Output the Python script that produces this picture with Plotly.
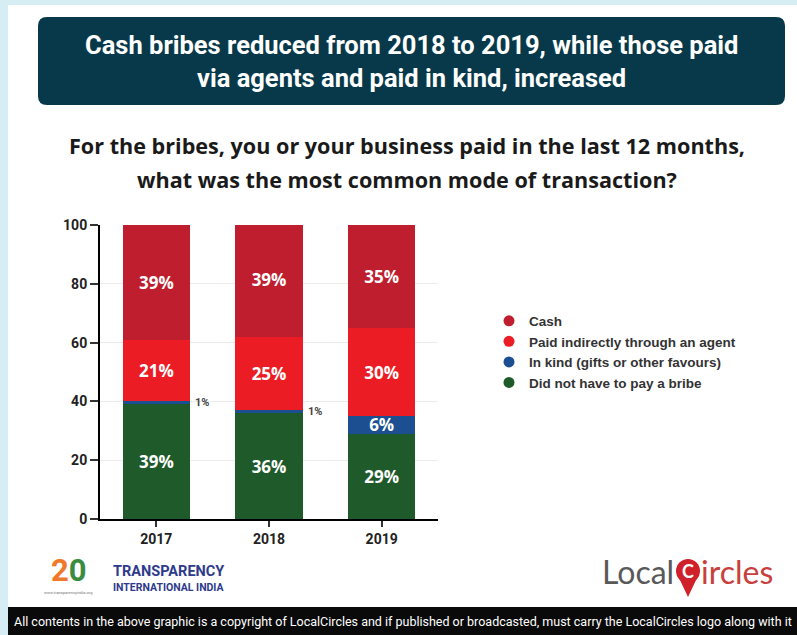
import plotly.graph_objects as go

W, H = 797, 635

# ---- data ----
years = ["2017", "2018", "2019"]
did_not_pay = [39, 36, 29]
in_kind = [1, 1, 6]
via_agent = [21, 25, 30]
cash = [39, 39, 35]
y_ticks = [0, 20, 40, 60, 80, 100]

series_names = ["Did not have to pay a bribe", "In kind (gifts or other favours)",
                "Paid indirectly through an agent", "Cash"]
series_values = [did_not_pay, in_kind, via_agent, cash]
series_colors = ["#1f5a2b", "#1b4f91", "#ec1c24", "#be1e2d"]

title_lines = ["Cash bribes reduced from 2018 to 2019, while those paid",
               "via agents and paid in kind, increased"]
subtitle_lines = ["For the bribes, you or your business paid in the last 12 months,",
                  "what was the most common mode of transaction?"]
footer_text = ("All contents in the above graphic is a copyright of LocalCircles and if published "
               "or broadcasted, must carry the LocalCircles logo along with it")


def X(px):
    return px / W


def Y(py):
    return 1 - py / H


fig = go.Figure()

for name, vals, col in zip(series_names, series_values, series_colors):
    txt = [f"{v}%" if v >= 3 else "" for v in vals]
    fig.add_trace(go.Bar(
        x=years, y=vals, name=name, marker=dict(color=col, line=dict(width=0)),
        text=txt, textposition="inside", insidetextanchor="middle",
        constraintext="none",
        textfont=dict(family="Open Sans", size=17, color="white", weight="bold"),
        showlegend=False, hoverinfo="skip",
    ))

# legend entries with round markers (top-to-bottom: Cash ... Did not)
for name, col in list(zip(series_names, series_colors))[::-1]:
    fig.add_trace(go.Scatter(x=[years[0]], y=[None], mode="markers", name=name,
                             marker=dict(size=11, color=col), showlegend=True,
                             hoverinfo="skip"))

annotations = []
# outside labels for tiny "in kind" segments (x given as category index)
for i, (base, v) in enumerate(zip(did_not_pay, in_kind)):
    if v < 3:
        annotations.append(dict(x=i, y=base + v / 2, xref="x", yref="y", text=f"<b>{v}%</b>",
                                showarrow=False, xshift=46,
                                font=dict(family="Roboto", size=11, color="#444")))

# title box text
for i, line in enumerate(title_lines):
    annotations.append(dict(x=X(411.5), y=Y(45 + 33 * i), xref="paper", yref="paper",
                            text=line, showarrow=False, xanchor="center", yanchor="middle",
                            font=dict(family="Roboto", size=25.5, color="white", weight="bold")))
# subtitle
for i, line in enumerate(subtitle_lines):
    annotations.append(dict(x=X(407), y=Y(146 + 34 * i), xref="paper", yref="paper",
                            text=f"<b>{line}</b>", showarrow=False, xanchor="center",
                            yanchor="middle",
                            font=dict(family="Open Sans", size=21.6, color="#1a1a1a")))

# Transparency International India logo (text approximation)
annotations += [
    dict(x=X(49), y=Y(570), xref="paper", yref="paper", xanchor="left", yanchor="middle",
         text="<b><span style='color:#f0782a'>2</span><span style='color:#3a8d3f'>0</span></b>",
         showarrow=False, font=dict(family="Roboto", size=31)),
    dict(x=X(111), y=Y(571), xref="paper", yref="paper", xanchor="left", yanchor="middle",
         text="<b>TRANSPARENCY</b>", showarrow=False,
         font=dict(family="Roboto", size=14.5, color="#2e3a8c")),
    dict(x=X(111), y=Y(587), xref="paper", yref="paper", xanchor="left", yanchor="middle",
         text="<b>INTERNATIONAL INDIA</b>", showarrow=False,
         font=dict(family="Roboto", size=10.5, color="#2e3a8c")),
    dict(x=X(68), y=Y(592), xref="paper", yref="paper", xanchor="center", yanchor="middle",
         text="www.transparencyindia.org", showarrow=False,
         font=dict(family="Roboto", size=4, color="#777")),
]

# LocalCircles logo
annotations += [
    dict(x=X(676), y=Y(571), xref="paper", yref="paper", xanchor="right", yanchor="middle",
         text="Local", showarrow=False, font=dict(family="Lato", size=32, color="#595959")),
    dict(x=X(688), y=Y(571), xref="paper", yref="paper", xanchor="center", yanchor="middle",
         text="<b>C</b>", showarrow=False, font=dict(family="Lato", size=18, color="white")),
    dict(x=X(699), y=Y(571), xref="paper", yref="paper", xanchor="left", yanchor="middle",
         text="ircles", showarrow=False, font=dict(family="Lato", size=32, color="#c8403c")),
]

# footer
annotations.append(dict(x=X(12), y=Y(621), xref="paper", yref="paper", xanchor="left",
                        yanchor="middle", text=footer_text, showarrow=False,
                        font=dict(family="Roboto", size=12.5, color="white")))

# rounded title box path
x0, x1 = X(38), X(785)
yt, yb = Y(17), Y(105)
rx, ry = 9 / W, 9 / H
box_path = (f"M {x0+rx},{yt} L {x1-rx},{yt} Q {x1},{yt} {x1},{yt-ry} "
            f"L {x1},{yb+ry} Q {x1},{yb} {x1-rx},{yb} L {x0+rx},{yb} "
            f"Q {x0},{yb} {x0},{yb+ry} L {x0},{yt-ry} Q {x0},{yt} {x0+rx},{yt} Z")

shapes = [
    dict(type="rect", xref="paper", yref="paper", x0=X(8), x1=1, y0=Y(607), y1=Y(5),
         fillcolor="white", line=dict(width=0), layer="below"),
    dict(type="rect", xref="paper", yref="paper", x0=X(8), x1=1, y0=0, y1=Y(607),
         fillcolor="#0a0a0a", line=dict(width=0), layer="below"),
    dict(type="path", xref="paper", yref="paper", path=box_path,
         fillcolor="#07394a", line=dict(width=0), layer="below"),
    # LocalCircles pin
    dict(type="path", xref="paper", yref="paper",
         path=f"M {X(679)},{Y(578)} L {X(688)},{Y(597)} L {X(697)},{Y(578)} Z",
         fillcolor="#d0202a", line=dict(width=0), layer="below"),
    dict(type="circle", xref="paper", yref="paper", x0=X(676), x1=X(700), y0=Y(583), y1=Y(559),
         fillcolor="#d0202a", line=dict(width=0), layer="below"),
]

fig.update_layout(
    width=W, height=H, autosize=False,
    margin=dict(l=0, r=0, t=0, b=0, pad=0),
    paper_bgcolor="#d6edf4", plot_bgcolor="rgba(0,0,0,0)",
    barmode="stack", bargap=0.4,
    showlegend=True,
    legend=dict(x=X(489), y=Y(352), xanchor="left", yanchor="middle",
                bgcolor="rgba(0,0,0,0)", traceorder="normal",
                font=dict(family="Liberation Sans", size=13.5, color="#333", weight="bold"),
                itemclick=False, itemdoubleclick=False),
    xaxis=dict(domain=[X(100), X(438)], type="category", categoryorder="array",
               categoryarray=years, range=[-0.5, 2.5], automargin=False,
               showline=True, linecolor="black",
               linewidth=2, ticks="outside", ticklen=6, tickwidth=1.5, tickcolor="#333",
               tickfont=dict(family="Roboto", size=14, color="#222", weight="bold"),
               showgrid=False, zeroline=False, fixedrange=True),
    yaxis=dict(domain=[Y(519), Y(225)], range=[0, 100], tickvals=y_ticks, automargin=False,
               showline=True, linecolor="black", linewidth=2, ticks="outside", ticklen=8,
               tickwidth=1.5, tickcolor="#333", showgrid=True, gridcolor="#ececec",
               gridwidth=1, zeroline=False,
               tickfont=dict(family="Roboto", size=14, color="#222", weight="bold"),
               fixedrange=True),
    annotations=annotations,
    shapes=shapes,
)

fig.write_html("out.html", config={"displayModeBar": False},
               post_script="document.body.style.margin='0';")
